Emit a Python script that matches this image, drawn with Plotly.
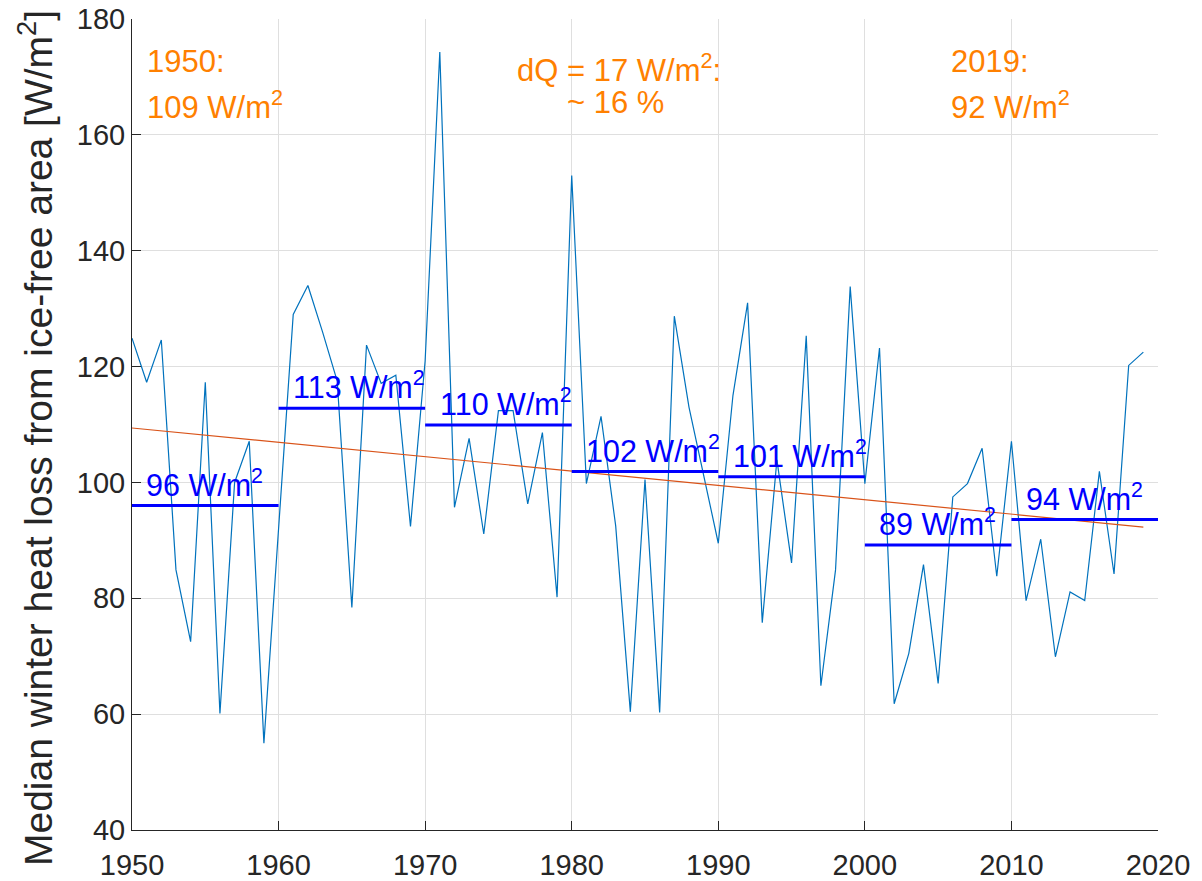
import plotly.graph_objects as go

years = list(range(1950, 2020))
heat_loss = [
    124.9, 117.3, 124.6, 84.9, 72.5, 117.3, 60.1, 100.0, 107.1, 55.0,
    92.0, 129.0, 134.0, 126.0, 117.5, 78.4, 123.7, 117.1, 118.5, 92.4,
    121.0, 174.3, 95.7, 107.6, 91.1, 112.4, 112.4, 96.3, 108.6, 80.2,
    153.0, 99.8, 111.4, 92.5, 60.4, 100.5, 60.3, 128.7, 113.0, 101.0,
    89.5, 115.0, 131.0, 75.8, 103.9, 86.1, 125.3, 64.9, 84.9, 133.8,
    99.8, 123.2, 61.8, 70.5, 85.8, 65.3, 97.5, 99.8, 105.9, 83.8,
    107.1, 79.6, 90.2, 69.9, 81.1, 79.6, 101.9, 84.2, 120.2, 122.5,
]

trend_years = [1950, 2019]
trend_values = [109.4, 92.3]

decade_starts = [1950, 1960, 1970, 1980, 1990, 2000, 2010]
decade_ends = [1960, 1970, 1980, 1990, 2000, 2010, 2020]
decade_means = [96.0, 112.8, 109.9, 101.9, 101.0, 89.2, 93.6]
decade_labels = ["96", "113", "110", "102", "101", "89", "94"]

x_ticks = [1950, 1960, 1970, 1980, 1990, 2000, 2010, 2020]
y_ticks = [40, 60, 80, 100, 120, 140, 160, 180]

FONT = "Liberation Sans, Arial, Helvetica, sans-serif"
FS = 29
ORANGE = "#FF8000"
BLUE = "#0000FF"

fig = go.Figure()

fig.add_trace(go.Scatter(x=years, y=heat_loss, mode="lines",
                         line=dict(color="#0072BD", width=1.2),
                         showlegend=False))
fig.add_trace(go.Scatter(x=trend_years, y=trend_values, mode="lines",
                         line=dict(color="#D95319", width=1.2),
                         showlegend=False))
for s, e, m in zip(decade_starts, decade_ends, decade_means):
    fig.add_trace(go.Scatter(x=[s, e], y=[m, m], mode="lines",
                             line=dict(color=BLUE, width=3),
                             showlegend=False))

annotations = []
for s, m, lab in zip(decade_starts, decade_means, decade_labels):
    annotations.append(dict(
        x=s + 0.85, y=m + 3.95, xref="x", yref="y",
        text=f"{lab} W/m<sup>2</sup>", showarrow=False,
        xanchor="left", yanchor="middle",
        font=dict(family=FONT, size=30.5, color=BLUE)))

# orange annotations
orange = [
    dict(x=1950.87, y=172.6, text="1950:", xanchor="left", yanchor="middle"),
    dict(x=1950.87, y=165.2, text="109 W/m<sup>2</sup>", xanchor="left", yanchor="middle"),
    dict(x=1983.2, y=171.6, text="dQ = 17 W/m<sup>2</sup>:", xanchor="center", yanchor="middle"),
    dict(x=1983.0, y=165.6, text="~ 16 %", xanchor="center", yanchor="middle"),
    dict(x=2005.75, y=172.6, text="2019:", xanchor="left", yanchor="middle"),
    dict(x=2005.75, y=165.2, text="92 W/m<sup>2</sup>", xanchor="left", yanchor="middle"),
]
for a in orange:
    a.update(xref="x", yref="y", showarrow=False,
             font=dict(family=FONT, size=31, color=ORANGE))
annotations += orange

# y-axis title as rotated annotation (positioned like the reference)
annotations.append(dict(
    text="Median winter heat loss from ice-free area [W/m<sup>2</sup>]",
    xref="paper", yref="paper", x=-0.0935, y=0.4834,
    xanchor="center", yanchor="middle", textangle=-90, showarrow=False,
    font=dict(family=FONT, size=39, color="#262626")))

fig.update_layout(
    width=1194, height=873,
    margin=dict(l=124, r=44, t=11, b=51),
    paper_bgcolor="white", plot_bgcolor="white",
    font=dict(family=FONT, size=FS, color="#262626"),
    annotations=annotations,
    showlegend=False,
)
fig.update_xaxes(
    range=[1950, 2020], tickvals=x_ticks, ticktext=[str(v) for v in x_ticks],
    showgrid=True, gridcolor="#DFDFDF", gridwidth=1,
    showline=True, linecolor="#262626", linewidth=1,
    ticks="inside", ticklen=9, tickcolor="#262626",
    tickfont=dict(family=FONT, size=FS, color="#262626"),
    ticklabelstandoff=9, ticklabeloverflow="allow",
    zeroline=False, automargin=False,
)
fig.update_yaxes(
    range=[40, 180], tickvals=y_ticks, ticktext=[str(v) for v in y_ticks],
    showgrid=True, gridcolor="#DFDFDF", gridwidth=1,
    showline=True, linecolor="#262626", linewidth=1,
    ticks="inside", ticklen=9, tickcolor="#262626",
    tickfont=dict(family=FONT, size=FS, color="#262626"),
    ticklabeloverflow="allow",
    zeroline=False, automargin=False,
)

fig.write_html("out.html")
